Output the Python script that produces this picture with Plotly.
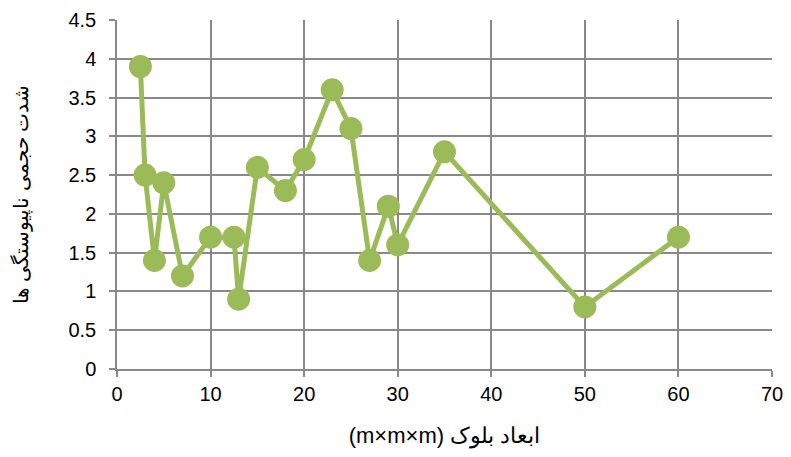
import plotly.graph_objects as go

# Block size (m) and volumetric discontinuity intensity
block_size = [2.5, 3, 4, 5, 7, 10, 12.5, 13, 15, 18, 20, 23, 25, 27, 29, 30, 35, 50, 60]
intensity = [3.9, 2.5, 1.4, 2.4, 1.2, 1.7, 1.7, 0.9, 2.6, 2.3, 2.7, 3.6, 3.1, 1.4, 2.1, 1.6, 2.8, 0.8, 1.7]

x_ticks = [0, 10, 20, 30, 40, 50, 60, 70]
y_ticks = [0, 0.5, 1, 1.5, 2, 2.5, 3, 3.5, 4, 4.5]

green = "#9BBB59"
grid = "#898989"
font_family = "Arial, Liberation Sans, sans-serif"

fig = go.Figure(
    go.Scatter(
        x=block_size,
        y=intensity,
        mode="lines+markers",
        line=dict(color=green, width=5),
        marker=dict(color=green, size=23),
        showlegend=False,
    )
)

fig.update_layout(
    width=791,
    height=457,
    margin=dict(l=117, r=19, t=20, b=88),
    paper_bgcolor="white",
    plot_bgcolor="white",
    font=dict(family=font_family, size=20, color="#000000"),
)

fig.update_xaxes(
    range=[0, 70],
    tickvals=x_ticks,
    ticktext=[str(v) for v in x_ticks],
    tickfont=dict(size=20),
    showgrid=True,
    gridcolor=grid,
    gridwidth=1.5,
    showline=True,
    linecolor=grid,
    linewidth=1.5,
    ticks="outside",
    ticklen=6,
    tickcolor=grid,
    tickwidth=1.5,
    zeroline=False,
    automargin=False,
    title=dict(text="(m×m×m) ابعاد بلوک", standoff=24, font=dict(size=22)),
)

fig.update_yaxes(
    range=[0, 4.5],
    tickvals=y_ticks,
    ticktext=[f"{v:g}" for v in y_ticks],
    tickfont=dict(size=20),
    showgrid=True,
    gridcolor=grid,
    gridwidth=1.5,
    showline=True,
    linecolor=grid,
    linewidth=1.5,
    ticks="outside",
    ticklen=6,
    tickcolor=grid,
    tickwidth=1.5,
    ticklabelstandoff=9,
    zeroline=False,
    automargin=False,
    title=dict(text="شدت حجمی ناپیوستگی ها", standoff=34, font=dict(size=20)),
)

fig.write_html("out.html")
